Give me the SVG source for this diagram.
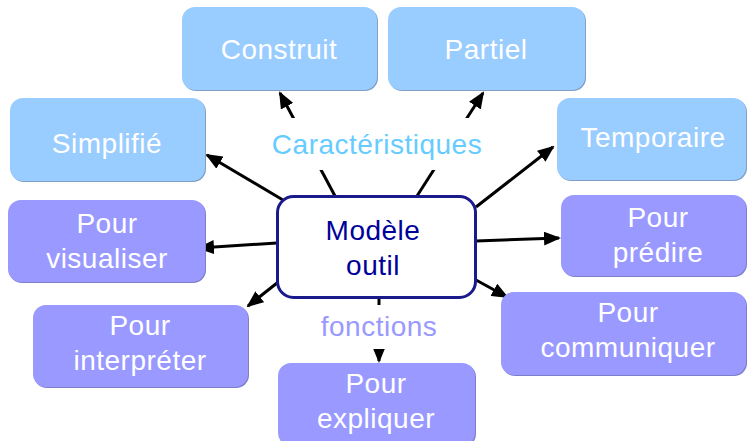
<svg xmlns="http://www.w3.org/2000/svg" width="747" height="441" viewBox="0 0 747 441">
<style>
.b{fill:#99ccff}
.p{fill:#9999ff}
.sb{fill:#7f9fc4}
.sp{fill:#7d7dcc}
text{font-family:"Liberation Sans",Arial,sans-serif;font-size:28px;text-anchor:middle;letter-spacing:0.5px}
.t{fill:#ffffff}
.c{fill:#000099}
.ln{stroke:#000;stroke-width:3;fill:none;marker-end:url(#ah)}
</style>
<defs>
<marker id="ah" markerUnits="userSpaceOnUse" markerWidth="17" markerHeight="14" refX="15" refY="7" orient="auto">
<path d="M0,0 L17,7 L0,14 Z" fill="#000"/>
</marker>
</defs>
<rect width="747" height="441" fill="#ffffff"/>
<g id="connectors">
<line class="ln" x1="335" y1="196" x2="280" y2="93"/>
<line class="ln" x1="417" y1="196" x2="483" y2="93"/>
<line class="ln" x1="283" y1="200" x2="207" y2="155"/>
<line class="ln" x1="476" y1="207" x2="553" y2="147"/>
<line class="ln" x1="277" y1="243" x2="199" y2="248"/>
<line class="ln" x1="476" y1="241" x2="559" y2="238"/>
<line class="ln" x1="277" y1="283" x2="248" y2="306"/>
<line class="ln" x1="476" y1="280" x2="507" y2="297"/>
<line class="ln" x1="379" y1="298" x2="379" y2="361"/>
</g>
<g id="label-caracteristiques">
<rect x="268" y="118" width="220" height="52" fill="#ffffff"/>
<text x="377" y="154" fill="#66ccff">Caractéristiques</text>
</g>
<g id="label-fonctions">
<rect x="318" y="305" width="122" height="44" fill="#ffffff"/>
<text x="379" y="336" fill="#9999ff">fonctions</text>
</g>
<g id="construit">
<rect class="sb" x="183" y="8" width="195" height="83" rx="13"/>
<rect class="b" x="182" y="7" width="195" height="83" rx="13"/>
<text class="t" x="279" y="59">Construit</text>
</g>
<g id="partiel">
<rect class="sb" x="389" y="8" width="197" height="83" rx="13"/>
<rect class="b" x="388" y="7" width="197" height="83" rx="13"/>
<text class="t" x="486" y="59">Partiel</text>
</g>
<g id="simplifie">
<rect class="sb" x="11" y="99" width="195" height="83" rx="13"/>
<rect class="b" x="10" y="98" width="195" height="83" rx="13"/>
<text class="t" x="107" y="153">Simplifié</text>
</g>
<g id="temporaire">
<rect class="sb" x="558" y="99" width="189" height="82" rx="13"/>
<rect class="b" x="557" y="98" width="189" height="82" rx="13"/>
<text class="t" x="653" y="147">Temporaire</text>
</g>
<g id="visualiser">
<rect class="sp" x="9" y="201" width="197" height="82" rx="13"/>
<rect class="p" x="8" y="200" width="197" height="82" rx="13"/>
<text class="t" x="107" y="233">Pour</text>
<text class="t" x="107" y="268">visualiser</text>
</g>
<g id="predire">
<rect class="sp" x="562" y="196" width="185" height="81" rx="13"/>
<rect class="p" x="561" y="195" width="185" height="81" rx="13"/>
<text class="t" x="658" y="227">Pour</text>
<text class="t" x="658" y="262">prédire</text>
</g>
<g id="interpreter">
<rect class="sp" x="34" y="306" width="215" height="82" rx="13"/>
<rect class="p" x="33" y="305" width="215" height="82" rx="13"/>
<text class="t" x="140" y="335">Pour</text>
<text class="t" x="140" y="370">interpréter</text>
</g>
<g id="communiquer">
<rect class="sp" x="502" y="293" width="245" height="83" rx="13"/>
<rect class="p" x="501" y="292" width="245" height="83" rx="13"/>
<text class="t" x="628" y="322">Pour</text>
<text class="t" x="628" y="357">communiquer</text>
</g>
<g id="expliquer">
<rect class="sp" x="279" y="364" width="197" height="83" rx="13"/>
<rect class="p" x="278" y="363" width="197" height="83" rx="13"/>
<text class="t" x="376" y="393">Pour</text>
<text class="t" x="376" y="428">expliquer</text>
</g>
<g id="modele-outil">
<rect x="277.5" y="196.5" width="198" height="101" rx="16" fill="#ffffff" stroke="#1a1a8c" stroke-width="3"/>
<text class="c" x="373" y="240">Modèle</text>
<text class="c" x="373" y="275">outil</text>
</g>
</svg>
